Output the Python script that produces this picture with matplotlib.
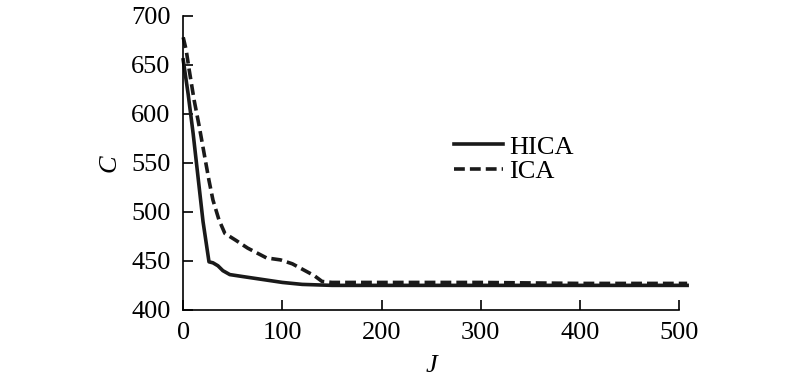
import numpy as np
import matplotlib.pyplot as plt

# DATA
j_hica = [0, 5, 10, 15, 20, 26, 30, 35, 40, 47, 60, 80, 100, 120, 150, 200, 300, 400, 508]
c_hica = [655, 620, 580, 535, 490, 449, 448, 445, 440, 436, 434, 431, 428, 426, 425, 425, 425, 425, 425]

j_ica = [0, 3, 6, 11, 16, 21, 26, 30, 36, 42, 53, 65, 84, 98, 110, 121, 132, 140, 150, 200, 300, 400, 508]
c_ica = [678, 665, 645, 614, 588, 560, 532, 512, 492, 478, 471, 463, 453, 451, 447, 441, 435, 429, 428, 428, 428, 427, 427]

x_ticks = [0, 100, 200, 300, 400, 500]
y_ticks = [400, 450, 500, 550, 600, 650, 700]

plt.rcParams['font.family'] = ['Liberation Serif', 'DejaVu Serif']
plt.rcParams['font.size'] = 19

fig = plt.figure(figsize=(8, 3.84), dpi=100)
ax = fig.add_axes([0.229, 0.193, 0.62, 0.766])

ax.plot(j_hica, c_hica, color='#1a1a1a', lw=2.6, label='HICA', clip_on=False)
ax.plot(j_ica, c_ica, color='#1a1a1a', lw=2.6, ls=(0, (3, 1.4)), label='ICA', clip_on=False)

ax.set_xlim(0, 500)
ax.set_ylim(400, 700)
ax.set_xticks(x_ticks)
ax.set_yticks(y_ticks)
ax.spines['top'].set_visible(False)
ax.spines['right'].set_visible(False)
ax.spines['left'].set_linewidth(1.2)
ax.spines['bottom'].set_linewidth(1.2)
ax.tick_params(direction='in', length=7.5, width=1.2)
ax.tick_params(axis='y', pad=9)
ax.tick_params(axis='x', pad=9)

ax.set_xlabel('J', style='italic', labelpad=8)
ax.set_ylabel('C', style='italic', labelpad=8)

ax.legend(loc='upper left', bbox_to_anchor=(0.525, 0.63), frameon=False,
          handlelength=1.85, handletextpad=0.25, labelspacing=0.05, fontsize=19,
          borderaxespad=0)

fig.savefig('out.png', dpi=100)
